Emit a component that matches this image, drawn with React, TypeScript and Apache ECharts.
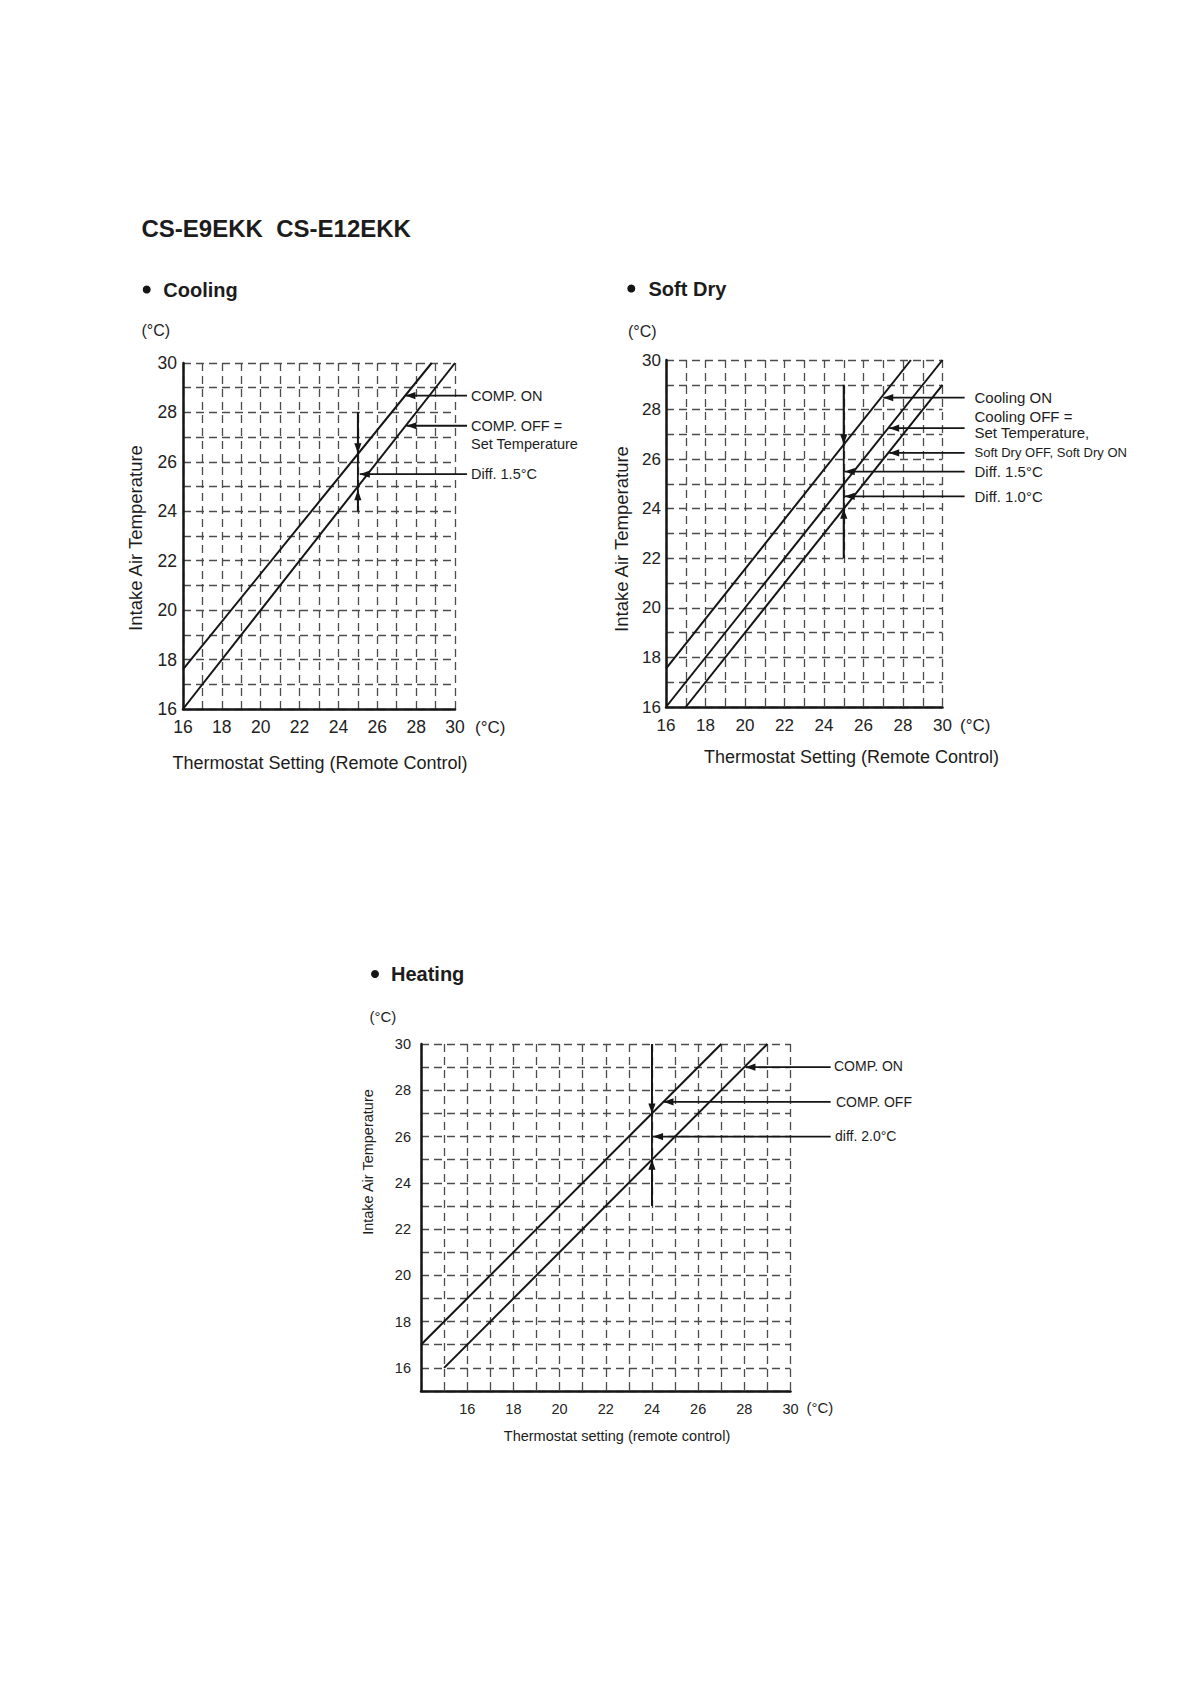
import React, { useEffect, useRef } from 'react';
import * as echarts from 'echarts';

const FONT = '"Liberation Sans", Arial, Helvetica, sans-serif';
const INK = '#151515';
const GRIDC = '#4c4c4c';

// ---------- Cooling ----------
const coolXTicks = [16, 18, 20, 22, 24, 26, 28, 30];
const coolYTicks = [16, 18, 20, 22, 24, 26, 28, 30];
const coolCompOn = [[16, 17.6], [28.8, 30]];
const coolCompOff = [[16, 16], [30, 30]];
// [x1, y1, x2, y2, arrowhead at (x2,y2)]
const coolArrows = [
  [25, 28, 25, 24, 0],
  [25, 28, 25, 26.35, 1],
  [25, 24, 25, 24.85, 1],
  [30.62, 28.68, 27.45, 28.68, 1],
  [30.62, 27.46, 27.5, 27.46, 1],
  [30.62, 25.5, 25.1, 25.5, 1],
];

// ---------- Soft Dry ----------
const dryXTicks = [16, 18, 20, 22, 24, 26, 28, 30];
const dryYTicks = [16, 18, 20, 22, 24, 26, 28, 30];
const dryCoolOn = [[16, 17.55], [28.4, 30]];
const dryCoolOff = [[16, 16], [30, 30]];
const drySoftDry = [[17, 16], [30, 29]];
const dryArrows = [
  [25, 29, 25, 22, 0],
  [25, 29, 25, 26.6, 1],
  [25, 22, 25, 24, 1],
  [31.12, 28.48, 27.0, 28.48, 1],
  [31.12, 27.25, 27.3, 27.25, 1],
  [31.12, 26.25, 27.3, 26.25, 1],
  [31.12, 25.5, 25.05, 25.5, 1],
  [31.12, 24.5, 25.05, 24.5, 1],
];

// ---------- Heating ----------
const heatXTicks = [16, 18, 20, 22, 24, 26, 28, 30];
const heatYTicks = [16, 18, 20, 22, 24, 26, 28, 30];
const heatCompOn = [[15, 16], [29, 30]];
const heatCompOff = [[14, 17], [27, 30]];
const heatArrows = [
  [24, 30, 24, 23, 0],
  [24, 30, 24, 27, 1],
  [24, 23, 24, 25, 1],
  [31.74, 29, 28.05, 29, 1],
  [31.74, 27.5, 24.5, 27.5, 1],
  [31.74, 26, 24.05, 26, 1],
];

function makeAxis(gridIndex: number, min: number, max: number, ticks: number[], fontSize: number, margin: number) {
  return {
    type: 'value',
    gridIndex,
    min,
    max,
    interval: 1,
    axisLine: { show: true, onZero: false, lineStyle: { color: INK, width: 2.5 } },
    axisTick: { show: false },
    axisLabel: {
      formatter: (v: number) => (ticks.includes(v) ? String(v) : ''),
      fontSize,
      fontFamily: FONT,
      color: '#222',
      margin,
      showMinLabel: true,
      showMaxLabel: true,
      hideOverlap: false,
    },
    splitLine: { show: true, lineStyle: { type: [8, 5], color: GRIDC, width: 1.3 } },
  };
}

function lineSeries(data: number[][], idx: number) {
  return {
    type: 'line',
    data,
    xAxisIndex: idx,
    yAxisIndex: idx,
    symbol: 'none',
    lineStyle: { color: INK, width: 2 },
    silent: true,
    z: 4,
  };
}

const renderArrow = (params: any, api: any) => {
  const p1 = api.coord([api.value(0), api.value(1)]);
  const p2 = api.coord([api.value(2), api.value(3)]);
  const head = api.value(4);
  const children: any[] = [
    {
      type: 'line',
      shape: { x1: p1[0], y1: p1[1], x2: p2[0], y2: p2[1] },
      style: { stroke: INK, lineWidth: 1.8 },
    },
  ];
  if (head) {
    const dx = p2[0] - p1[0];
    const dy = p2[1] - p1[1];
    const len = Math.hypot(dx, dy) || 1;
    const ux = dx / len;
    const uy = dy / len;
    const L = 10;
    const W = 3.6;
    const bx = p2[0] - ux * L;
    const by = p2[1] - uy * L;
    children.push({
      type: 'polygon',
      shape: { points: [[p2[0], p2[1]], [bx - uy * W, by + ux * W], [bx + uy * W, by - ux * W]] },
      style: { fill: INK },
    });
  }
  return { type: 'group', children };
};

function arrowSeries(data: number[][], idx: number) {
  return {
    type: 'custom',
    data,
    xAxisIndex: idx,
    yAxisIndex: idx,
    renderItem: renderArrow,
    clip: false,
    silent: true,
    z: 5,
  };
}

function txt(text: string, x: number, y: number, font: string, align = 'left', rotation = 0) {
  return {
    type: 'text',
    x,
    y,
    rotation,
    silent: true,
    style: {
      text,
      font,
      fill: '#1c1c1c',
      align,
      verticalAlign: 'middle',
      textAlign: align,
      textVerticalAlign: 'middle',
    },
  };
}

function bullet(cx: number, cy: number) {
  return { type: 'circle', silent: true, shape: { cx, cy, r: 4 }, style: { fill: INK } };
}

export default function App() {
  const ref = useRef<HTMLDivElement>(null);

  useEffect(() => {
    if (!ref.current) return;
    const chart = echarts.init(ref.current, null, { renderer: 'svg' });

    const option: any = {
      animation: false,
      backgroundColor: '#ffffff',
      grid: [
        { left: 183, top: 363, width: 272, height: 346 },
        { left: 666, top: 360, width: 276.5, height: 347 },
        { left: 421, top: 1044, width: 369.5, height: 347 },
      ],
      xAxis: [
        makeAxis(0, 16, 30, coolXTicks, 17.5, 9),
        makeAxis(1, 16, 30, dryXTicks, 17, 10),
        makeAxis(2, 14, 30, heatXTicks, 14.5, 10),
      ],
      yAxis: [
        makeAxis(0, 16, 30, coolYTicks, 17.5, 6),
        makeAxis(1, 16, 30, dryYTicks, 17, 5),
        makeAxis(2, 15, 30, heatYTicks, 14.5, 10),
      ],
      series: [
        lineSeries(coolCompOn, 0),
        lineSeries(coolCompOff, 0),
        arrowSeries(coolArrows, 0),
        lineSeries(dryCoolOn, 1),
        lineSeries(dryCoolOff, 1),
        lineSeries(drySoftDry, 1),
        arrowSeries(dryArrows, 1),
        lineSeries(heatCompOn, 2),
        lineSeries(heatCompOff, 2),
        arrowSeries(heatArrows, 2),
      ],
      graphic: [
        // page title
        txt('CS-E9EKK  CS-E12EKK', 141.5, 228, `bold 24px ${FONT}`),
        // Cooling
        bullet(146.7, 289.5),
        txt('Cooling', 163.3, 289.5, `bold 20px ${FONT}`),
        txt('(°C)', 141.5, 330, `16px ${FONT}`),
        txt('(°C)', 475, 727, `17px ${FONT}`),
        txt('Thermostat Setting (Remote Control)', 320, 763, `18px ${FONT}`, 'center'),
        txt('Intake Air Temperature', 135, 538, `18.5px ${FONT}`, 'center', Math.PI / 2),
        txt('COMP. ON', 471, 396, `14.5px ${FONT}`),
        txt('COMP. OFF =', 471, 425.5, `14.5px ${FONT}`),
        txt('Set Temperature', 471, 444, `14.5px ${FONT}`),
        txt('Diff. 1.5°C', 471, 474, `14.5px ${FONT}`),
        // Soft Dry
        bullet(631.3, 288.5),
        txt('Soft Dry', 648.5, 288.5, `bold 20px ${FONT}`),
        txt('(°C)', 628, 331.7, `16px ${FONT}`),
        txt('(°C)', 960, 725, `17px ${FONT}`),
        txt('Thermostat Setting (Remote Control)', 851.5, 757, `18px ${FONT}`, 'center'),
        txt('Intake Air Temperature', 621, 539, `18.5px ${FONT}`, 'center', Math.PI / 2),
        txt('Cooling ON', 974.5, 397.7, `15px ${FONT}`),
        txt('Cooling OFF =', 974.5, 416.7, `15px ${FONT}`),
        txt('Set Temperature,', 974.5, 432.3, `15px ${FONT}`),
        txt('Soft Dry OFF, Soft Dry ON', 974.5, 452.3, `13px ${FONT}`),
        txt('Diff. 1.5°C', 974.5, 471.7, `15px ${FONT}`),
        txt('Diff. 1.0°C', 974.5, 496.7, `15px ${FONT}`),
        // Heating
        bullet(375, 974),
        txt('Heating', 391, 974, `bold 20px ${FONT}`),
        txt('(°C)', 369.5, 1016, `15px ${FONT}`),
        txt('(°C)', 806.5, 1407.5, `15px ${FONT}`),
        txt('Thermostat setting (remote control)', 617, 1436, `14.5px ${FONT}`, 'center'),
        txt('Intake Air Temperature', 367.5, 1162, `14.5px ${FONT}`, 'center', Math.PI / 2),
        txt('COMP. ON', 834, 1066, `14px ${FONT}`),
        txt('COMP. OFF', 836, 1101.7, `14px ${FONT}`),
        txt('diff. 2.0°C', 835, 1136, `14px ${FONT}`),
      ],
    };

    chart.setOption(option);
    return () => chart.dispose();
  }, []);

  return (
    <div
      ref={ref}
      style={{ position: 'absolute', left: 0, top: 0, width: 1190, height: 1684, background: '#fff' }}
    />
  );
}
